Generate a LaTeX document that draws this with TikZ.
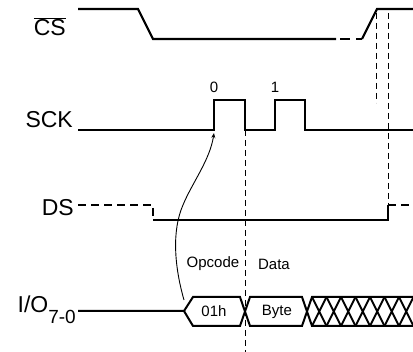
\documentclass[tikz,border=0pt]{standalone}
\usepackage{fontspec}
\setmainfont{Liberation Sans}
\usepackage{tikz}
\usetikzlibrary{arrows.meta}
\tikzset{
  wave/.style={line width=2.1pt, line join=miter},
  wavedash/.style={wave, dash pattern=on 8pt off 5pt},
  bus/.style={line width=2pt, line join=miter},
  guide/.style={line width=0.9pt, dash pattern=on 6pt off 4pt},
  sig/.style={font=\fontsize{23}{25}\selectfont, inner sep=0pt},
  lbl/.style={font=\fontsize{15}{17}\selectfont, inner sep=0pt},
  pre/.style={-{Stealth[length=5pt,width=4pt]}, line width=0.9pt},
}
\begin{document}
\begin{tikzpicture}[x=1pt,y=-1pt]
\useasboundingbox (0,0) rectangle (413,352);
\node[sig, anchor=base east] (cs) at (66,36) {$\overline{\mbox{CS}}$};
\node[sig, anchor=base east] (sck) at (73,128) {SCK};
\node[sig, anchor=base east] (ds) at (74,216) {DS};
\node[sig, anchor=base east] (io) at (76,313) {I/O\raisebox{-11pt}{\fontsize{19}{19}\selectfont 7-0}};
\draw[wave] (78,9) -- (138,9) -- (153,39) -- (336,39);
\draw[wave, dash pattern=on 10pt off 6pt] (340,39) -- (362,39);
\draw[wave] (362,39) -- (377,9) -- (413,9);
\draw[wave] (78,130) -- (214,130) -- (214,100) -- (245,100) -- (245,130) -- (275,130)
  -- (275,100) -- (305,100) -- (305,130) -- (413,130);
\node[lbl] (p0) at (214,87) {0};
\node[lbl] (p1) at (275,87) {1};
\draw[wavedash] (78,205) -- (153,205) -- (153,220);
\draw[wave] (153,220) -- (388,220) -- (388,205);
\draw[wavedash] (388,205) -- (413,205);
\draw[guide] (245,130) -- (245,352);
\draw[guide] (376,13) -- (376,103);
\draw[guide] (388,13) -- (388,205);
\draw[bus] (78,311) -- (184,311) -- (193,297) -- (240,297) -- (250,326) -- (302,326) -- (312,297) -- (413,297);
\draw[bus] (184,311) -- (193,326) -- (240,326) -- (250,297) -- (302,297) -- (312,326) -- (413,326);
\foreach \k in {0,...,7}
  \draw[bus] (312+14.5*\k,297) -- (326.5+14.5*\k,326) (312+14.5*\k,326) -- (326.5+14.5*\k,297);
\node[lbl] (opc) at (214,311) {01h};
\node[lbl] (byte) at (277,312) {Byte};
\node[lbl] (opcode) at (213,264) {Opcode};
\node[lbl] (data) at (274,264) {Data};
\coordinate (from) at (184,300);
\coordinate (edge0) at (214,133);
\draw[pre] (from) .. controls (174,265) and (172,230) .. (183,205)
  .. controls (192,183) and (210,160) .. (edge0);
\end{tikzpicture}
\end{document}
